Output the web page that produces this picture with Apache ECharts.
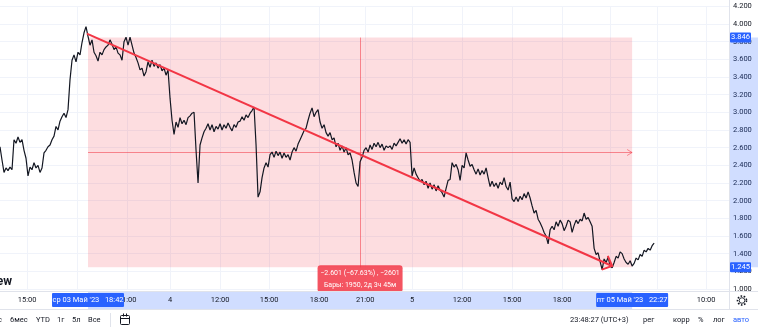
<!DOCTYPE html>
<html><head><meta charset="utf-8">
<script src="https://cdn.jsdelivr.net/npm/echarts@6/dist/echarts.min.js"></script>
<style>html,body{margin:0;padding:0;background:#fff;overflow:hidden}#c{width:758px;height:330px}</style>
</head><body><div id="c"></div>
<script>
// ---- data ----
const STEP_MIN = 7; // trading minutes between samples
const prices = [
2.61,2.46,2.32,2.37,2.34,2.38,2.35,2.69,2.65,2.72,2.66,2.69,2.57,2.48,2.28,2.38,2.35,2.43,2.37,2.40,
2.32,2.37,2.54,2.57,2.61,2.63,2.69,2.73,2.84,2.80,2.90,2.95,2.99,2.94,3.03,3.37,3.59,3.65,3.57,3.68,
3.65,3.79,3.90,3.97,3.86,3.76,3.82,3.68,3.64,3.58,3.68,3.65,3.71,3.74,3.76,3.82,3.77,3.71,3.74,3.67,
3.65,3.59,3.80,3.85,3.76,3.85,3.76,3.67,3.62,3.56,3.48,3.50,3.41,3.46,3.57,3.51,3.59,3.52,3.56,3.50,
3.54,3.47,3.50,3.42,3.48,3.16,2.91,2.75,2.89,2.83,2.94,2.87,2.91,2.86,2.94,2.96,2.99,3.00,2.57,2.20,
2.63,2.71,2.78,2.82,2.87,2.80,2.86,2.78,2.84,2.81,2.87,2.80,2.86,2.82,2.88,2.83,2.79,2.86,2.83,2.89,
2.90,2.95,2.91,2.97,2.94,2.99,3.02,3.06,2.63,2.04,2.10,2.26,2.37,2.43,2.38,2.52,2.55,2.49,2.56,2.51,
2.55,2.48,2.54,2.49,2.52,2.46,2.55,2.60,2.56,2.64,2.69,2.74,2.79,2.82,2.91,2.99,3.05,2.95,3.00,3.03,
2.89,2.82,2.86,2.77,2.73,2.77,2.69,2.71,2.61,2.65,2.57,2.62,2.55,2.60,2.52,2.54,2.46,2.32,2.20,2.16,
2.44,2.49,2.57,2.60,2.55,2.63,2.58,2.65,2.61,2.66,2.60,2.64,2.57,2.62,2.60,2.62,2.58,2.65,2.62,2.66,
2.70,2.65,2.69,2.64,2.69,2.66,2.28,2.37,2.30,2.26,2.22,2.24,2.18,2.22,2.14,2.20,2.13,2.18,2.11,2.17,
2.12,2.09,2.04,2.14,2.23,2.24,2.43,2.38,2.41,2.35,2.23,2.40,2.37,2.54,2.46,2.39,2.41,2.35,2.30,2.36,
2.29,2.34,2.30,2.37,2.26,2.16,2.22,2.16,2.20,2.14,2.21,2.18,2.26,2.16,2.12,2.21,2.02,1.99,2.04,1.99,
2.05,2.01,2.08,2.03,2.10,2.03,1.94,1.86,1.89,1.79,1.75,1.70,1.64,1.60,1.51,1.67,1.71,1.67,1.76,1.71,
1.78,1.74,1.66,1.71,1.78,1.76,1.64,1.72,1.78,1.74,1.79,1.77,1.86,1.79,1.81,1.76,1.71,1.46,1.39,1.41,
1.31,1.22,1.34,1.30,1.36,1.26,1.24,1.30,1.37,1.35,1.42,1.40,1.34,1.30,1.28,1.32,1.26,1.29,1.35,1.33,
1.39,1.37,1.44,1.42,1.46,1.44,1.49,1.52
];
const timeTicks  = [95, 270, 445, 595, 770, 942, 1117, 1278, 1442, 1617, 1792, 1967, 2135, 2300, 2471];
const timeLabels = ['15:00','18:00','21:00','4','12:00','15:00','18:00','21:00','5','12:00','15:00','18:00','21:00','6','10:00'];
const measureFrom = [308, 3.846];
const measureTo   = [2212, 1.245];
const trendFrom   = [304, 3.89];
const trendTo     = [2142, 1.26];
const measureText = ['\u22122.601 (\u221267.63%) , \u22122601', 'Бары: 1950, 2д 3ч 45м'];
const startBadgeText = "ср 03 Май '23   18:42";
const endBadgeText   = "пт 05 Май '23   22:27";
const priceBadges = ['3.846', '1.245'];
const toolbarLeft  = ['с', '6мес', 'YTD', '1г', '5л', 'Все'];
const toolbarRight = ['23:48:27 (UTC+3)', 'рег', 'корр', '%', 'лог', 'авто'];

// ---- chart ----
const FONT = 'Roboto, sans-serif';
const INK = '#131722';
const BLUE = '#2962ff';
const RED = '#f23645';
const chart = echarts.init(document.getElementById('c'), null, {renderer: 'canvas'});
const lineData = prices.map((p, i) => [i * STEP_MIN, p]);

const option = {
  animation: false,
  backgroundColor: '#ffffff',
  grid: {left: 0, right: 29, top: 6.3, bottom: 41, containLabel: false},
  xAxis: {
    type: 'value', min: 0, max: 2551,
    axisLine: {show: false}, axisTick: {show: false, customValues: timeTicks},
    splitLine: {show: true, lineStyle: {color: '#f0f3fa', width: 1}},
    axisLabel: {
      customValues: timeTicks, margin: 7, color: INK, fontSize: 7.5, fontFamily: FONT,
      formatter: v => { let k = 0, d = 1e9; timeTicks.forEach((t, i) => { if (Math.abs(t - v) < d) { d = Math.abs(t - v); k = i; } }); return timeLabels[k]; }
    }
  },
  yAxis: {
    type: 'value', position: 'right', min: 1.0, max: 4.2, interval: 0.2,
    axisLine: {show: false}, axisTick: {show: false},
    splitLine: {show: true, lineStyle: {color: '#f0f3fa', width: 1}},
    axisLabel: {margin: 4, color: INK, fontSize: 7.5, fontFamily: FONT, formatter: v => v.toFixed(3)}
  },
  series: [
    {
      type: 'custom', z: 1, clip: false, silent: true,
      data: [[measureFrom[0], measureFrom[1], measureTo[0], measureTo[1]]],
      renderItem: (params, api) => {
        const a = api.coord([api.value(0), api.value(1)]);
        const b = api.coord([api.value(2), api.value(3)]);
        const x0 = Math.min(a[0], b[0]), x1 = Math.max(a[0], b[0]);
        const y0 = Math.min(a[1], b[1]), y1 = Math.max(a[1], b[1]);
        const xm = Math.round((x0 + x1) / 2) + 0.5, ym = Math.round((y0 + y1) / 2) + 0.5;
        const st = {stroke: 'rgba(242,54,69,0.55)', lineWidth: 1, fill: null};
        return {type: 'group', children: [
          {type: 'rect', shape: {x: x0, y: y0, width: x1 - x0, height: y1 - y0}, style: {fill: 'rgba(242,54,69,0.17)'}},
          {type: 'line', shape: {x1: x0, y1: ym, x2: x1, y2: ym}, style: st},
          {type: 'polyline', shape: {points: [[x1 - 5, ym - 3], [x1, ym], [x1 - 5, ym + 3]]}, style: st},
          {type: 'line', shape: {x1: xm, y1: y0, x2: xm, y2: y1}, style: st}
        ]};
      }
    },
    {
      type: 'line', z: 2, data: lineData, showSymbol: false, symbol: 'none', sampling: null,
      lineStyle: {color: INK, width: 1.2}, silent: true
    },
    {
      type: 'custom', z: 3, clip: false, silent: true,
      data: [[trendFrom[0], trendFrom[1], trendTo[0], trendTo[1]]],
      renderItem: (params, api) => {
        const a = api.coord([api.value(0), api.value(1)]);
        const b = api.coord([api.value(2), api.value(3)]);
        const ang = Math.atan2(a[1] - b[1], a[0] - b[0]);
        const L = 11, h = 0.75;
        const w1 = [b[0] + L * Math.cos(ang + h), b[1] + L * Math.sin(ang + h)];
        const w2 = [b[0] + L * Math.cos(ang - h), b[1] + L * Math.sin(ang - h)];
        const st = {stroke: RED, lineWidth: 2, fill: null};
        return {type: 'group', children: [
          {type: 'line', shape: {x1: a[0], y1: a[1], x2: b[0], y2: b[1]}, style: st},
          {type: 'polyline', shape: {points: [w1, b, w2]}, style: st}
        ]};
      }
    },
    {
      type: 'custom', z: 4, clip: false, silent: true,
      data: [[measureFrom[0], measureFrom[1], measureTo[0], measureTo[1]]],
      renderItem: (params, api) => {
        const a = api.coord([api.value(0), api.value(1)]);
        const b = api.coord([api.value(2), api.value(3)]);
        const xm = (a[0] + b[0]) / 2, yb = Math.max(a[1], b[1]);
        const W = 85, H = 27;
        return {type: 'group', children: [
          {type: 'rect', shape: {x: xm - W / 2, y: yb - 2, width: W, height: H, r: 3}, style: {fill: 'rgba(242,54,69,0.85)'}},
          {type: 'text', style: {x: xm, y: yb + 6, text: measureText[0], fill: '#fff', font: '7px ' + FONT, textAlign: 'center', textVerticalAlign: 'middle'}},
          {type: 'text', style: {x: xm, y: yb + 18, text: measureText[1], fill: '#fff', font: '7px ' + FONT, textAlign: 'center', textVerticalAlign: 'middle'}}
        ]};
      }
    }
  ]
};
chart.setOption(option);

// ---- chrome (axis highlights, badges, toolbar) ----
const px = v => chart.convertToPixel({gridIndex: 0}, v);
const pA = px(measureFrom), pB = px(measureTo);
const g = [];
const txt = (x, y, s, o = {}) => ({type: 'text', x, y, z: 100, style: Object.assign({text: s, fill: INK, font: '7.5px ' + FONT, textVerticalAlign: 'middle'}, o)});
// pane borders
g.push({type: 'rect', shape: {x: 0, y: 291, width: 758, height: 39}, style: {fill: '#fff'}, z: 90});
g.push({type: 'line', shape: {x1: 0, y1: 291.5, x2: 758, y2: 291.5}, style: {stroke: '#e0e3eb', lineWidth: 1}, z: 91});
g.push({type: 'line', shape: {x1: 0, y1: 309.5, x2: 758, y2: 309.5}, style: {stroke: '#e0e3eb', lineWidth: 1}, z: 91});
g.push({type: 'line', shape: {x1: 729.5, y1: 0, x2: 729.5, y2: 309}, style: {stroke: '#e0e3eb', lineWidth: 1}, z: 91});
// price-scale band
g.push({type: 'rect', shape: {x: 730, y: pA[1], width: 28, height: pB[1] - pA[1]}, style: {fill: 'rgba(41,98,255,0.22)'}, z: 92});
// time-scale band
g.push({type: 'rect', shape: {x: pA[0], y: 292, width: pB[0] - pA[0], height: 17}, style: {fill: 'rgba(41,98,255,0.22)'}, z: 92});
// x labels re-drawn above band
timeTicks.forEach((t, i) => {
  const p = px([t, 1.0]);
  g.push(txt(p[0], 300.5, timeLabels[i], {textAlign: 'center'}));
});
// time badges
[[pA[0], startBadgeText], [pB[0], endBadgeText]].forEach(([x, s]) => {
  g.push({type: 'rect', shape: {x: x - 36, y: 293, width: 72, height: 14, r: 1}, style: {fill: BLUE}, z: 101});
  g.push(Object.assign(txt(x, 300.5, s, {textAlign: 'center', fill: '#fff'}), {z: 102}));
});
// price badges
[[pA[1], priceBadges[0]], [pB[1], priceBadges[1]]].forEach(([y, s]) => {
  g.push({type: 'rect', shape: {x: 730, y: y - 5, width: 21, height: 10, r: 1}, style: {fill: BLUE}, z: 101});
  g.push(Object.assign(txt(740.5, y, s, {textAlign: 'center', fill: '#fff'}), {z: 102}));
});
// watermark tail
g.push({type: 'text', x: 12, y: 282, z: 100, style: {text: 'ew', fill: INK, font: 'bold 12px ' + FONT, textAlign: 'right', textVerticalAlign: 'middle'}});
// toolbar left
const leftX = [-2, 10, 36, 57, 72, 88];
toolbarLeft.forEach((s, i) => g.push(txt(leftX[i], 320, s)));
g.push({type: 'line', shape: {x1: 110.5, y1: 313, x2: 110.5, y2: 327}, style: {stroke: '#e0e3eb', lineWidth: 1}, z: 100});
// calendar icon
g.push({type: 'rect', shape: {x: 120.5, y: 315.5, width: 9, height: 9, r: 1}, style: {stroke: INK, fill: null, lineWidth: 1}, z: 100});
g.push({type: 'line', shape: {x1: 120.5, y1: 318.5, x2: 129.5, y2: 318.5}, style: {stroke: INK, lineWidth: 1}, z: 100});
g.push({type: 'line', shape: {x1: 123.5, y1: 313.5, x2: 123.5, y2: 316.5}, style: {stroke: INK, lineWidth: 1}, z: 100});
g.push({type: 'line', shape: {x1: 126.5, y1: 313.5, x2: 126.5, y2: 316.5}, style: {stroke: INK, lineWidth: 1}, z: 100});
// toolbar right
const rightX = [570, 643, 673, 698, 713, 733];
toolbarRight.forEach((s, i) => g.push(txt(rightX[i], 320, s, i === 5 ? {fill: BLUE} : {})));
// gear
g.push({type: 'circle', shape: {cx: 742, cy: 300.5, r: 4.5}, style: {stroke: INK, fill: null, lineWidth: 1.6, lineDash: [1.6, 1.6]}, z: 100});
g.push({type: 'circle', shape: {cx: 742, cy: 300.5, r: 2.8}, style: {stroke: INK, fill: '#fff', lineWidth: 0.9}, z: 100});
chart.setOption({graphic: g});
</script></body></html>
